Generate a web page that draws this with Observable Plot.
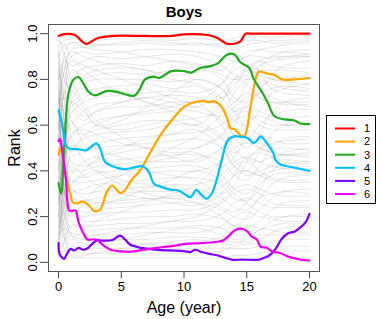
<!DOCTYPE html>
<html>
<head>
<meta charset="utf-8">
<script src="https://cdn.jsdelivr.net/npm/d3@7"></script>
<script src="https://cdn.jsdelivr.net/npm/@observablehq/plot@0.6"></script>
<style>
  body { margin: 0; background: #fff; font-family: "Liberation Sans", Arial, sans-serif; }
  #wrap { position: relative; width: 382px; height: 319px; }
  #legend { position: absolute; left: 326px; top: 115px; width: 48px; height: 87px; border: 1px solid #000; background: #fff; }
</style>
</head>
<body>
<div id="wrap"><div id="chart"></div><div id="legend"></div></div>
<script>
// ---- data ----
const xTicks = [0, 5, 10, 15, 20];
const yTicks = [0, 0.2, 0.4, 0.6, 0.8, 1.0];
const groupLabels = ["1", "2", "3", "4", "5", "6"];
const groupColors = ["#FF0000", "#FFA500", "#22AA22", "#00BFFF", "#7A00FF", "#EE00EE"];

const ages1 = [0,0.5,1.3,1.8,2.2,2.6,3.1,4.4,6.8,9,10,11.9,12.7,13.4,14,14.5,14.9,15.3,20];
const rank1 = [0.99,0.998,0.994,0.97,0.955,0.965,0.98,0.99,0.99,0.99,0.997,0.994,0.98,0.956,0.956,0.966,1.0,1.0,1.0];

const ages2 = [0,0.15,0.4,0.7,0.98,1.1,1.5,1.9,2.4,2.85,3.3,3.9,4.3,4.6,4.9,5.2,5.8,6.6,7.1,8.2,9,10,10.8,11.6,12,12.4,12.9,13.4,13.7,14.1,14.5,14.8,15.3,15.7,15.95,16.6,17.2,17.8,18.8,20];
const rank2 = [0.47,0.50,0.44,0.35,0.29,0.265,0.258,0.266,0.25,0.224,0.23,0.314,0.336,0.32,0.304,0.31,0.358,0.41,0.46,0.563,0.62,0.68,0.70,0.705,0.70,0.705,0.687,0.636,0.588,0.58,0.556,0.55,0.68,0.80,0.833,0.826,0.82,0.80,0.80,0.806];

const ages3 = [0,0.2,0.45,0.8,1.2,1.6,2.0,2.4,2.9,3.9,5,6,6.4,6.9,7.6,8,9,10,10.6,11.3,12.1,12.7,13.4,14,14.5,15.2,15.6,16.2,16.7,17.2,18,18.8,19.3,20];
const rank3 = [0.347,0.30,0.50,0.74,0.80,0.81,0.78,0.745,0.73,0.75,0.74,0.728,0.75,0.80,0.812,0.806,0.836,0.836,0.83,0.85,0.858,0.87,0.907,0.91,0.875,0.85,0.797,0.746,0.695,0.64,0.625,0.62,0.607,0.605];

const ages4 = [0,0.3,0.6,0.87,1.5,2.2,2.6,3.0,3.3,3.7,4.3,5.3,6,6.7,7.2,7.6,8.2,9,9.5,10,10.5,11,11.3,11.8,12.2,12.6,13,13.5,14,14.6,15.1,15.5,15.8,16.1,16.6,17.1,17.3,17.7,18.8,20];
const rank4 = [0.665,0.6,0.51,0.497,0.495,0.49,0.505,0.52,0.50,0.44,0.42,0.407,0.415,0.42,0.395,0.344,0.33,0.317,0.315,0.30,0.285,0.317,0.30,0.278,0.30,0.36,0.447,0.534,0.551,0.548,0.543,0.522,0.53,0.551,0.522,0.48,0.447,0.428,0.414,0.40];

const ages5 = [0,0.1,0.45,0.6,0.97,1.25,1.6,1.95,2.35,3.0,3.5,4.3,4.9,5.3,5.7,6.6,7.7,8.8,10,10.5,10.9,11.4,12,12.7,13.8,14.6,16,16.4,16.8,17.3,17.8,18.3,18.8,19.3,19.7,20];
const rank5 = [0.085,0.034,0.015,0.03,0.059,0.052,0.063,0.055,0.063,0.095,0.095,0.098,0.117,0.10,0.078,0.063,0.056,0.052,0.049,0.045,0.055,0.045,0.037,0.03,0.012,0.012,0.012,0.02,0.03,0.059,0.103,0.127,0.134,0.154,0.176,0.212];

const ages6 = [0,0.1,0.3,0.45,0.6,0.7,0.85,1.1,1.35,1.6,2.0,2.3,3.0,3.6,4.2,5,6,7.2,8.2,9.3,10,11.4,12.5,13.1,13.6,14.1,14.7,15.1,15.4,15.8,16.1,16.6,17,17.7,18.3,19.3,20];
const rank6 = [0.53,0.54,0.49,0.42,0.358,0.27,0.227,0.225,0.227,0.175,0.125,0.10,0.10,0.073,0.054,0.048,0.048,0.059,0.066,0.073,0.08,0.084,0.089,0.095,0.117,0.142,0.146,0.132,0.113,0.10,0.069,0.064,0.048,0.040,0.025,0.012,0.008];

// background individual rank trajectories (approximate)
const grayAges = [0,0.5,1,2,3,5,7,9,11,13,14,15,16,17,18,20];
const grayRanks = [
  [0.95,0.97,0.98,0.97,0.97,0.98,0.98,0.97,0.98,0.97,0.98,0.99,0.99,0.98,0.99,0.99],
  [0.6,0.85,0.93,0.94,0.95,0.95,0.96,0.95,0.96,0.94,0.93,0.95,0.96,0.97,0.97,0.98],
  [0.2,0.7,0.9,0.92,0.91,0.92,0.93,0.93,0.92,0.9,0.88,0.9,0.93,0.94,0.95,0.96],
  [0.8,0.88,0.86,0.88,0.9,0.89,0.9,0.91,0.9,0.86,0.82,0.8,0.85,0.9,0.92,0.93],
  [0.4,0.6,0.8,0.85,0.86,0.87,0.86,0.88,0.87,0.84,0.88,0.92,0.93,0.92,0.92,0.91],
  [0.9,0.8,0.75,0.8,0.82,0.83,0.82,0.84,0.85,0.8,0.72,0.7,0.75,0.82,0.86,0.88],
  [0.1,0.4,0.7,0.78,0.8,0.8,0.8,0.79,0.8,0.76,0.7,0.78,0.86,0.88,0.89,0.9],
  [0.7,0.72,0.7,0.74,0.76,0.77,0.78,0.76,0.77,0.72,0.76,0.85,0.88,0.86,0.85,0.85],
  [0.3,0.5,0.65,0.7,0.72,0.73,0.74,0.75,0.74,0.78,0.84,0.86,0.84,0.8,0.8,0.82],
  [0.5,0.55,0.6,0.66,0.69,0.7,0.72,0.73,0.72,0.68,0.62,0.6,0.66,0.74,0.76,0.78],
  [0.98,0.9,0.7,0.64,0.66,0.68,0.68,0.7,0.7,0.72,0.78,0.82,0.8,0.78,0.76,0.75],
  [0.25,0.45,0.55,0.6,0.62,0.64,0.65,0.66,0.68,0.62,0.55,0.5,0.56,0.66,0.7,0.72],
  [0.85,0.7,0.58,0.56,0.58,0.6,0.62,0.62,0.63,0.66,0.7,0.74,0.72,0.7,0.7,0.7],
  [0.05,0.3,0.48,0.54,0.56,0.57,0.58,0.6,0.6,0.54,0.48,0.52,0.6,0.64,0.66,0.67],
  [0.65,0.6,0.52,0.5,0.52,0.54,0.55,0.56,0.57,0.6,0.66,0.68,0.66,0.64,0.63,0.64],
  [0.45,0.4,0.46,0.48,0.5,0.51,0.52,0.53,0.54,0.5,0.42,0.4,0.48,0.56,0.6,0.62],
  [0.15,0.25,0.38,0.44,0.46,0.48,0.5,0.5,0.5,0.55,0.62,0.64,0.6,0.58,0.58,0.58],
  [0.75,0.55,0.44,0.42,0.44,0.45,0.46,0.47,0.47,0.44,0.38,0.36,0.42,0.5,0.54,0.55],
  [0.35,0.38,0.4,0.4,0.42,0.43,0.44,0.44,0.45,0.5,0.56,0.58,0.56,0.54,0.52,0.52],
  [0.92,0.6,0.4,0.37,0.39,0.4,0.41,0.42,0.42,0.38,0.32,0.3,0.36,0.44,0.48,0.5],
  [0.55,0.45,0.36,0.35,0.36,0.38,0.39,0.4,0.4,0.44,0.5,0.52,0.5,0.48,0.47,0.47],
  [0.08,0.2,0.3,0.32,0.34,0.35,0.36,0.37,0.37,0.34,0.28,0.27,0.32,0.4,0.43,0.44],
  [0.62,0.42,0.32,0.3,0.31,0.32,0.33,0.34,0.34,0.38,0.44,0.46,0.44,0.42,0.41,0.41],
  [0.28,0.3,0.28,0.27,0.28,0.3,0.31,0.31,0.32,0.28,0.24,0.23,0.28,0.34,0.37,0.38],
  [0.88,0.5,0.3,0.25,0.26,0.27,0.28,0.28,0.29,0.33,0.38,0.4,0.38,0.36,0.35,0.35],
  [0.42,0.3,0.24,0.22,0.23,0.24,0.25,0.26,0.26,0.23,0.2,0.19,0.23,0.28,0.31,0.32],
  [0.18,0.22,0.22,0.2,0.21,0.22,0.22,0.23,0.23,0.27,0.32,0.34,0.32,0.3,0.29,0.29],
  [0.72,0.4,0.22,0.18,0.18,0.19,0.2,0.2,0.21,0.19,0.16,0.15,0.18,0.23,0.26,0.27],
  [0.02,0.1,0.16,0.16,0.16,0.17,0.17,0.18,0.18,0.21,0.26,0.28,0.26,0.24,0.24,0.24],
  [0.5,0.3,0.18,0.14,0.14,0.15,0.15,0.15,0.16,0.15,0.12,0.12,0.14,0.18,0.2,0.21],
  [0.32,0.2,0.13,0.12,0.12,0.12,0.13,0.13,0.13,0.16,0.2,0.22,0.2,0.19,0.18,0.18],
  [0.12,0.15,0.12,0.1,0.1,0.1,0.1,0.11,0.11,0.1,0.09,0.09,0.1,0.13,0.15,0.16],
  [0.68,0.3,0.12,0.08,0.08,0.08,0.08,0.08,0.09,0.11,0.14,0.16,0.15,0.14,0.13,0.13],
  [0.22,0.1,0.07,0.06,0.06,0.06,0.06,0.06,0.06,0.06,0.06,0.06,0.07,0.09,0.1,0.1],
  [0.04,0.05,0.05,0.04,0.04,0.04,0.04,0.04,0.04,0.05,0.07,0.08,0.08,0.07,0.07,0.07],
  [0.38,0.1,0.03,0.02,0.02,0.02,0.02,0.02,0.02,0.02,0.03,0.03,0.04,0.05,0.05,0.05],
  [0.97,0.95,0.96,0.96,0.95,0.96,0.97,0.96,0.95,0.96,0.97,0.97,0.97,0.96,0.96,0.97],
  [0.58,0.75,0.84,0.82,0.84,0.85,0.84,0.82,0.83,0.88,0.9,0.88,0.84,0.84,0.84,0.83],
  [0.78,0.65,0.68,0.72,0.74,0.75,0.7,0.68,0.66,0.64,0.68,0.72,0.76,0.8,0.81,0.8],
  [0.1,0.35,0.56,0.58,0.56,0.52,0.5,0.48,0.48,0.42,0.46,0.54,0.52,0.5,0.5,0.49],
  [0.55,0.9,0.8,0.7,0.62,0.55,0.5,0.46,0.44,0.5,0.6,0.7,0.74,0.72,0.7,0.68],
  [0.15,0.6,0.75,0.68,0.6,0.62,0.68,0.74,0.8,0.76,0.66,0.58,0.5,0.48,0.47,0.46],
  [0.82,0.3,0.2,0.26,0.32,0.38,0.44,0.5,0.55,0.65,0.74,0.8,0.82,0.8,0.79,0.78],
  [0.33,0.8,0.88,0.84,0.8,0.74,0.7,0.66,0.62,0.55,0.45,0.4,0.38,0.4,0.41,0.42],
  [0.6,0.2,0.1,0.14,0.18,0.22,0.26,0.3,0.34,0.45,0.55,0.62,0.64,0.62,0.6,0.6],
  [0.48,0.65,0.55,0.45,0.4,0.34,0.3,0.28,0.26,0.2,0.16,0.2,0.28,0.3,0.31,0.3],
  [0.9,0.95,0.9,0.86,0.84,0.8,0.76,0.72,0.7,0.78,0.86,0.9,0.9,0.89,0.9,0.9],
  [0.07,0.45,0.62,0.52,0.46,0.42,0.4,0.38,0.36,0.3,0.34,0.44,0.5,0.52,0.53,0.54],
  [0.75,0.25,0.15,0.2,0.24,0.28,0.32,0.36,0.4,0.36,0.3,0.26,0.22,0.2,0.2,0.2],
  [0.26,0.55,0.7,0.66,0.6,0.58,0.6,0.62,0.6,0.7,0.8,0.84,0.82,0.76,0.74,0.73],
  [0.44,0.15,0.08,0.1,0.12,0.14,0.16,0.18,0.2,0.26,0.3,0.32,0.3,0.26,0.25,0.25],
  [0.68,0.85,0.92,0.9,0.88,0.86,0.84,0.8,0.78,0.72,0.66,0.68,0.74,0.76,0.77,0.76],
  [0.12,0.35,0.42,0.38,0.34,0.3,0.28,0.26,0.25,0.3,0.38,0.46,0.48,0.46,0.45,0.44],
  [0.95,0.6,0.5,0.55,0.6,0.64,0.66,0.68,0.7,0.6,0.5,0.45,0.44,0.46,0.47,0.48],
  [0.36,0.12,0.05,0.07,0.08,0.1,0.12,0.14,0.15,0.12,0.1,0.11,0.14,0.16,0.17,0.17],
  [0.52,0.75,0.62,0.56,0.5,0.46,0.44,0.46,0.5,0.56,0.64,0.66,0.62,0.6,0.6,0.61],
  [0.2,0.5,0.33,0.28,0.26,0.26,0.27,0.29,0.3,0.36,0.42,0.44,0.4,0.37,0.36,0.36],
  [0.85,0.4,0.35,0.4,0.45,0.5,0.54,0.56,0.58,0.5,0.42,0.38,0.4,0.42,0.43,0.43],
  [0.58,0.92,0.96,0.94,0.93,0.92,0.9,0.88,0.86,0.82,0.8,0.84,0.88,0.9,0.9,0.91],
  [0.3,0.05,0.02,0.03,0.04,0.06,0.08,0.09,0.1,0.08,0.08,0.1,0.12,0.12,0.12,0.12],
  [0.72,0.55,0.66,0.62,0.66,0.7,0.72,0.7,0.68,0.74,0.8,0.78,0.72,0.7,0.69,0.69],
  [0.46,0.25,0.34,0.38,0.4,0.36,0.34,0.32,0.3,0.24,0.22,0.26,0.34,0.38,0.39,0.39]
];

// ---- build tables ----
const gray = grayRanks.flatMap((r, id) => r.map((v, i) => ({id, age: grayAges[i], rank: v})));
const seriesAges = [ages1, ages2, ages3, ages4, ages5, ages6];
const seriesRanks = [rank1, rank2, rank3, rank4, rank5, rank6];
const groups = seriesAges.flatMap((a, k) => a.map((age, i) => ({g: groupLabels[k], age, rank: seriesRanks[k][i]})));

const font = "Liberation Sans, Arial, sans-serif";
const chart = Plot.plot({
  width: 382, height: 319,
  marginLeft: 48, marginRight: 63, marginTop: 24, marginBottom: 48,
  style: {fontFamily: font, background: "#fff", color: "#000"},
  x: {domain: [-0.8, 20.8]},
  y: {domain: [-0.04, 1.04]},
  color: {domain: groupLabels, range: groupColors},
  marks: [
    Plot.line(gray, {x: "age", y: "rank", z: "id", stroke: "#8c8c8c", strokeOpacity: 0.42, strokeWidth: 0.5, curve: "catmull-rom"}),
    Plot.line(groups, {x: "age", y: "rank", z: "g", stroke: "g", strokeWidth: 2.2, curve: "catmull-rom"}),
    Plot.frame({stroke: "#555", strokeWidth: 1}),
    Plot.axisX(xTicks, {tickSize: 7, tickPadding: 3, fontSize: 13, label: null, stroke: "#444", fill: "#000"}),
    Plot.axisY(yTicks, {tickSize: 8, tickFormat: () => "", label: null, stroke: "#444"}),
    Plot.text(yTicks, {y: d => d, text: d => d.toFixed(1), frameAnchor: "left", dx: -16, rotate: -90, textAnchor: "middle", lineAnchor: "middle", fontSize: 13, fill: "#000"}),
    Plot.text(["Boys"], {frameAnchor: "top", dy: -12, lineAnchor: "middle", fontSize: 15, fontWeight: "bold", fill: "#000"}),
    Plot.text(["Age (year)"], {frameAnchor: "bottom", dy: 36, lineAnchor: "middle", fontSize: 16, fill: "#000"}),
    Plot.text(["Rank"], {frameAnchor: "left", dx: -34, rotate: -90, textAnchor: "middle", lineAnchor: "middle", fontSize: 16, fill: "#000"})
  ]
});
document.getElementById("chart").appendChild(chart);

// ---- legend ----
const ns = "http://www.w3.org/2000/svg";
const lg = document.createElementNS(ns, "svg");
lg.setAttribute("width", 48); lg.setAttribute("height", 87);
groupLabels.forEach((lab, i) => {
  const yy = 12.5 + i * 13.1;
  const ln = document.createElementNS(ns, "line");
  ln.setAttribute("x1", 8); ln.setAttribute("x2", 28);
  ln.setAttribute("y1", yy); ln.setAttribute("y2", yy);
  ln.setAttribute("stroke", groupColors[i]); ln.setAttribute("stroke-width", 2);
  lg.appendChild(ln);
  const t = document.createElementNS(ns, "text");
  t.setAttribute("x", 40); t.setAttribute("y", yy);
  t.setAttribute("dy", "0.35em"); t.setAttribute("text-anchor", "middle");
  t.setAttribute("font-size", 11); t.setAttribute("font-family", font);
  t.textContent = lab;
  lg.appendChild(t);
});
document.getElementById("legend").appendChild(lg);
</script>
</body>
</html>
